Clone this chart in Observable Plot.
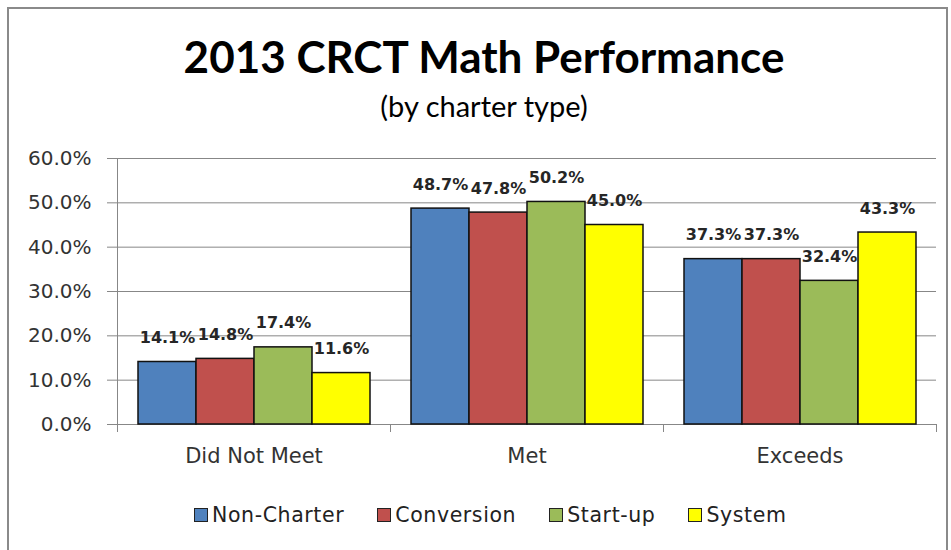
<!DOCTYPE html>
<html><head><meta charset="utf-8">
<script src="https://cdn.jsdelivr.net/npm/d3@7"></script>
<script src="https://cdn.jsdelivr.net/npm/@observablehq/plot@0.6"></script>
<style>
body{margin:0;width:951px;height:550px;overflow:hidden;background:#fff;position:relative;font-family:"DejaVu Sans",sans-serif;}
#frame{position:absolute;left:7px;top:7px;width:937px;height:600px;border:2px solid #8a8a8a;}
#title{position:absolute;left:0;width:968px;top:34px;text-align:center;font:bold 44px Lato;line-height:44px;color:#000;}
#subtitle{position:absolute;left:0;width:968px;top:91px;text-align:center;font:29px Lato;line-height:30px;color:#000;}
#chart{position:absolute;left:0;top:140px;}
#legend{position:absolute;left:194px;top:503px;display:flex;align-items:center;font-size:20.5px;letter-spacing:0.6px;color:#222;white-space:nowrap;}
.item{display:flex;align-items:center;margin-right:33px;}
.sw{width:12px;height:12px;border:1.5px solid #222;margin-right:4px;}
</style>
</head><body>
<div id="frame"></div>
<div id="title">2013 CRCT Math Performance</div>
<div id="subtitle">(by charter type)</div>
<div id="chart"></div>
<div id="legend"></div>
<script>
const categories = ["Did Not Meet", "Met", "Exceeds"];
const series = ["Non-Charter", "Conversion", "Start-up", "System"];
const colors = ["#4F81BD", "#C0504D", "#9BBB59", "#FFFF00"];
const didNotMeet = [14.1, 14.8, 17.4, 11.6];
const met = [48.7, 47.8, 50.2, 45.0];
const exceeds = [37.3, 37.3, 32.4, 43.3];
const yTicks = [0, 10, 20, 30, 40, 50, 60];

const rows = [didNotMeet, met, exceeds].flatMap((vals, i) =>
  vals.map((v, j) => ({category: categories[i], series: series[j], value: v})));

const W = 951, H = 340, mL = 117, mR = 15, mT = 18, mB = 56;
const step = (W - mL - mR) / categories.length;
const grey = "#878787";

const chart = Plot.plot({
  width: W, height: H,
  marginLeft: mL, marginRight: mR, marginTop: mT, marginBottom: mB,
  style: {fontFamily: "DejaVu Sans", background: "transparent", overflow: "visible"},
  fx: {domain: categories, padding: 0, label: null},
  x: {domain: series, paddingInner: 0, paddingOuter: 0.32, axis: null},
  y: {domain: [0, 60], label: null},
  color: {domain: series, range: colors},
  marks: [
    Plot.gridY(yTicks, {stroke: grey, strokeOpacity: 1}),
    Plot.axisY(yTicks, {tickSize: 10, tickPadding: 16, stroke: grey, fill: "#333",
      tickFormat: d => d.toFixed(1) + "%", fontSize: 20, label: null}),
    Plot.frame({anchor: "left", facetAnchor: "left", stroke: grey}),
    Plot.ruleY([0], {stroke: grey}),
    Plot.axisFx({anchor: "bottom", text: null, tickSize: 8, dx: step / 2, stroke: grey, label: null}),
    Plot.axisFx({anchor: "bottom", text: null, tickSize: 8, dx: -step / 2, stroke: grey, label: null}),
    Plot.axisFx({anchor: "bottom", tickSize: 0, tickPadding: 24, fontSize: 21, fill: "#333", label: null}),
    Plot.barY(rows, {fx: "category", x: "series", y: "value", fill: "series", stroke: "#111", strokeWidth: 1.5}),
    Plot.text(rows, {fx: "category", x: "series", y: "value",
      text: d => d.value.toFixed(1) + "%", dy: -19, lineAnchor: "bottom",
      fontWeight: "bold", fontSize: 16, fill: "#262626"})
  ]
});
document.getElementById("chart").appendChild(chart);

const legend = document.getElementById("legend");
series.forEach((s, i) => {
  const item = document.createElement("div");
  item.className = "item";
  const sw = document.createElement("div");
  sw.className = "sw";
  sw.style.background = colors[i];
  const t = document.createElement("span");
  t.textContent = s;
  item.appendChild(sw); item.appendChild(t);
  legend.appendChild(item);
});
</script>
</body></html>
